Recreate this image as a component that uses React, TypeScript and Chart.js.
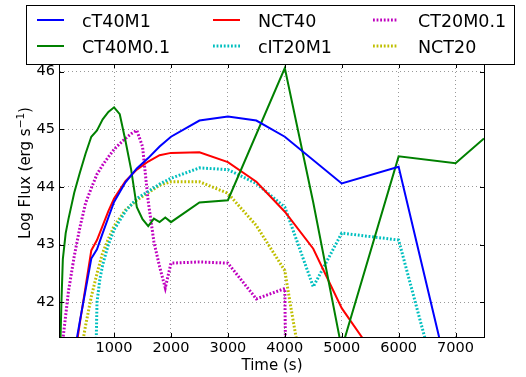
import React, { useEffect, useRef } from "react";
import { Chart, registerables } from "chart.js";

Chart.register(...registerables);

const FONT = "'DejaVu Sans', 'Bitstream Vera Sans', sans-serif";

// ---- data (time in s, log flux) ----
const cT40M1_t = [200, 400, 600, 700, 800, 900, 1000, 1200, 1400, 1600, 1800, 2000, 2500, 3000, 3500, 4000, 5000, 6000, 7000];
const cT40M1_v = [40.55, 41.68, 42.76, 42.92, 43.2, 43.47, 43.74, 44.08, 44.32, 44.5, 44.7, 44.87, 45.15, 45.22, 45.15, 44.87, 44.06, 44.35, 40.2];

const CT40M01_t = [50, 75, 100, 150, 200, 300, 400, 500, 600, 700, 800, 900, 1000, 1100, 1200, 1300, 1400, 1500, 1600, 1700, 1800, 1900, 2000, 2500, 3000, 4000, 4500, 5000, 6000, 7000, 7500];
const CT40M01_v = [41.0, 42.0, 42.75, 43.2, 43.45, 43.9, 44.25, 44.58, 44.87, 44.98, 45.17, 45.3, 45.38, 45.26, 44.8, 44.3, 43.65, 43.44, 43.32, 43.45, 43.39, 43.47, 43.39, 43.73, 43.77, 46.06, 43.73, 41.2, 44.53, 44.41, 44.84];

const NCT40_t = [200, 400, 600, 700, 800, 900, 1000, 1200, 1400, 1600, 1800, 2000, 2500, 3000, 3500, 4000, 4500, 5000, 5500];
const NCT40_v = [40.32, 41.65, 42.9, 43.08, 43.33, 43.58, 43.8, 44.1, 44.3, 44.44, 44.55, 44.59, 44.6, 44.43, 44.09, 43.57, 42.93, 41.9, 41.19];

const cIT20M1_t = [650, 700, 750, 800, 900, 1000, 1200, 1400, 1600, 1800, 2000, 2500, 3000, 3500, 4000, 4500, 5000, 6000, 7000];
const cIT20M1_v = [39.5, 42.0, 42.4, 42.65, 43.0, 43.26, 43.58, 43.8, 43.92, 44.05, 44.15, 44.33, 44.3, 44.06, 43.65, 42.27, 43.2, 43.08, 39.4];

const CT20M01_t = [50, 100, 200, 300, 400, 500, 600, 700, 800, 900, 1000, 1100, 1200, 1300, 1400, 1500, 1600, 1700, 1800, 1900, 2000, 2500, 3000, 3500, 4000, 4050];
const CT20M01_v = [40.6, 41.35, 42.2, 42.8, 43.3, 43.72, 43.98, 44.22, 44.38, 44.52, 44.65, 44.75, 44.84, 44.92, 44.98, 44.7, 43.75, 43.05, 42.62, 42.25, 42.68, 42.7, 42.68, 42.06, 42.24, 38.0];

const NCT20_t = [400, 500, 600, 700, 800, 900, 1000, 1200, 1400, 1600, 1800, 2000, 2500, 3000, 3500, 4000, 4100, 4250];
const NCT20_v = [41.05, 41.6, 42.1, 42.5, 42.86, 43.1, 43.32, 43.6, 43.77, 43.9, 44.03, 44.09, 44.09, 43.89, 43.33, 42.55, 41.95, 41.1];

const xTicks = [1000, 2000, 3000, 4000, 5000, 6000, 7000];
const yTicks = [42, 43, 44, 45, 46];

const pts = (t: number[], v: number[]) => t.map((x, i) => ({ x, y: v[i] }));

const frameLegendPlugin = {
  id: "frameLegend",
  afterDraw(chart: any) {
    const { ctx, chartArea: a, scales } = chart;
    ctx.save();
    // frame
    ctx.strokeStyle = "#000";
    ctx.lineWidth = 1;
    ctx.setLineDash([]);
    ctx.strokeRect(a.left - 0.5, a.top - 0.5, a.right - a.left + 1, a.bottom - a.top + 1);
    // inward ticks
    ctx.beginPath();
    scales.x.ticks.forEach((t: any) => {
      const px = Math.round(scales.x.getPixelForValue(t.value)) + 0.5;
      ctx.moveTo(px, a.bottom);
      ctx.lineTo(px, a.bottom - 4);
      ctx.moveTo(px, a.top);
      ctx.lineTo(px, a.top + 4);
    });
    scales.y.ticks.forEach((t: any) => {
      const py = Math.round(scales.y.getPixelForValue(t.value)) + 0.5;
      ctx.moveTo(a.left, py);
      ctx.lineTo(a.left + 4, py);
      ctx.moveTo(a.right, py);
      ctx.lineTo(a.right - 4, py);
    });
    ctx.stroke();

    // x title
    ctx.fillStyle = "#000";
    ctx.font = `15px ${FONT}`;
    ctx.textAlign = "center";
    ctx.textBaseline = "alphabetic";
    ctx.fillText("Time (s)", (a.left + a.right) / 2, 370);

    // y title with superscript
    ctx.save();
    ctx.translate(30, 173);
    ctx.rotate(-Math.PI / 2);
    ctx.textAlign = "left";
    const main = "Log Flux (erg s";
    const sup = "\u22121";
    const end = ")";
    ctx.font = `15px ${FONT}`;
    const wMain = ctx.measureText(main).width;
    const wEnd = ctx.measureText(end).width;
    ctx.font = `10.5px ${FONT}`;
    const wSup = ctx.measureText(sup).width;
    const total = wMain + wSup + wEnd;
    let x0 = -total / 2;
    ctx.font = `15px ${FONT}`;
    ctx.fillText(main, x0, 0);
    ctx.font = `10.5px ${FONT}`;
    ctx.fillText(sup, x0 + wMain, -6);
    ctx.font = `15px ${FONT}`;
    ctx.fillText(end, x0 + wMain + wSup, 0);
    ctx.restore();

    // legend
    const bx = 26, by = 5, bw = 488, bh = 59;
    ctx.fillStyle = "#fff";
    ctx.fillRect(bx, by, bw, bh);
    ctx.strokeStyle = "#000";
    ctx.lineWidth = 1;
    ctx.strokeRect(bx + 0.5, by + 0.5, bw, bh);
    const cols = [
      [37, 64, 82],
      [213, 240, 258],
      [373, 398, 418],
    ];
    const rows = [20, 46];
    ctx.font = `17.5px ${FONT}`;
    ctx.textAlign = "left";
    ctx.textBaseline = "alphabetic";
    chart.data.datasets.forEach((ds: any, i: number) => {
      const c = cols[Math.floor(i / 2)];
      const ry = rows[i % 2];
      ctx.beginPath();
      ctx.strokeStyle = ds.borderColor;
      ctx.lineWidth = ds.borderWidth;
      ctx.setLineDash(ds.borderDash || []);
      ctx.moveTo(c[0], ry);
      ctx.lineTo(c[1], ry);
      ctx.stroke();
      ctx.setLineDash([]);
      ctx.fillStyle = "#000";
      ctx.fillText(ds.label, c[2], ry + 6.6);
    });
    ctx.restore();
  },
};

export default function App() {
  const ref = useRef<HTMLCanvasElement | null>(null);
  useEffect(() => {
    document.body.style.margin = "0";
    if (!ref.current) return;
    const dotted = [1.8, 1.8];
    const chart = new Chart(ref.current, {
      type: "line",
      data: {
        datasets: [
          { label: "cT40M1", data: pts(cT40M1_t, cT40M1_v), borderColor: "#0000ff", borderWidth: 2 },
          { label: "CT40M0.1", data: pts(CT40M01_t, CT40M01_v), borderColor: "#008000", borderWidth: 2 },
          { label: "NCT40", data: pts(NCT40_t, NCT40_v), borderColor: "#ff0000", borderWidth: 2 },
          { label: "cIT20M1", data: pts(cIT20M1_t, cIT20M1_v), borderColor: "#00bfbf", borderWidth: 3, borderDash: dotted },
          { label: "CT20M0.1", data: pts(CT20M01_t, CT20M01_v), borderColor: "#bf00bf", borderWidth: 3, borderDash: dotted },
          { label: "NCT20", data: pts(NCT20_t, NCT20_v), borderColor: "#bfbf00", borderWidth: 3, borderDash: dotted },
        ].map((d) => ({ ...d, pointRadius: 0, tension: 0, fill: false, clip: 0 })) as any,
      },
      options: {
        animation: false,
        responsive: true,
        maintainAspectRatio: false,
        layout: { padding: { left: 0, top: 64, right: 42, bottom: 0 } },
        plugins: { legend: { display: false }, tooltip: { enabled: false } },
        scales: {
          x: {
            type: "linear",
            min: 50,
            max: 7500,
            afterFit: (s: any) => {
              s.height = 40;
            },
            afterBuildTicks: (s: any) => {
              s.ticks = xTicks.map((v) => ({ value: v }));
            },
            ticks: {
              font: { family: FONT, size: 14.5 },
              color: "#000",
              padding: 3,
              maxRotation: 0,
              callback: (v: any) => String(v),
            },
            grid: { color: "rgba(0,0,0,0.4)", lineWidth: 1, drawTicks: false },
            border: { display: false, dash: [1, 3] },
          },
          y: {
            type: "linear",
            min: 41.4,
            max: 46.13,
            afterFit: (s: any) => {
              s.width = 60;
            },
            afterBuildTicks: (s: any) => {
              s.ticks = yTicks.map((v) => ({ value: v }));
            },
            ticks: {
              font: { family: FONT, size: 14.5 },
              color: "#000",
              padding: 5,
              callback: (v: any) => String(v),
            },
            grid: { color: "rgba(0,0,0,0.4)", lineWidth: 1, drawTicks: false },
            border: { display: false, dash: [1, 3] },
          },
        },
      },
      plugins: [frameLegendPlugin],
    });
    return () => chart.destroy();
  }, []);
  return (
    <div style={{ position: "absolute", left: 0, top: 0, width: 526, height: 377 }}>
      <canvas ref={ref} />
    </div>
  );
}
